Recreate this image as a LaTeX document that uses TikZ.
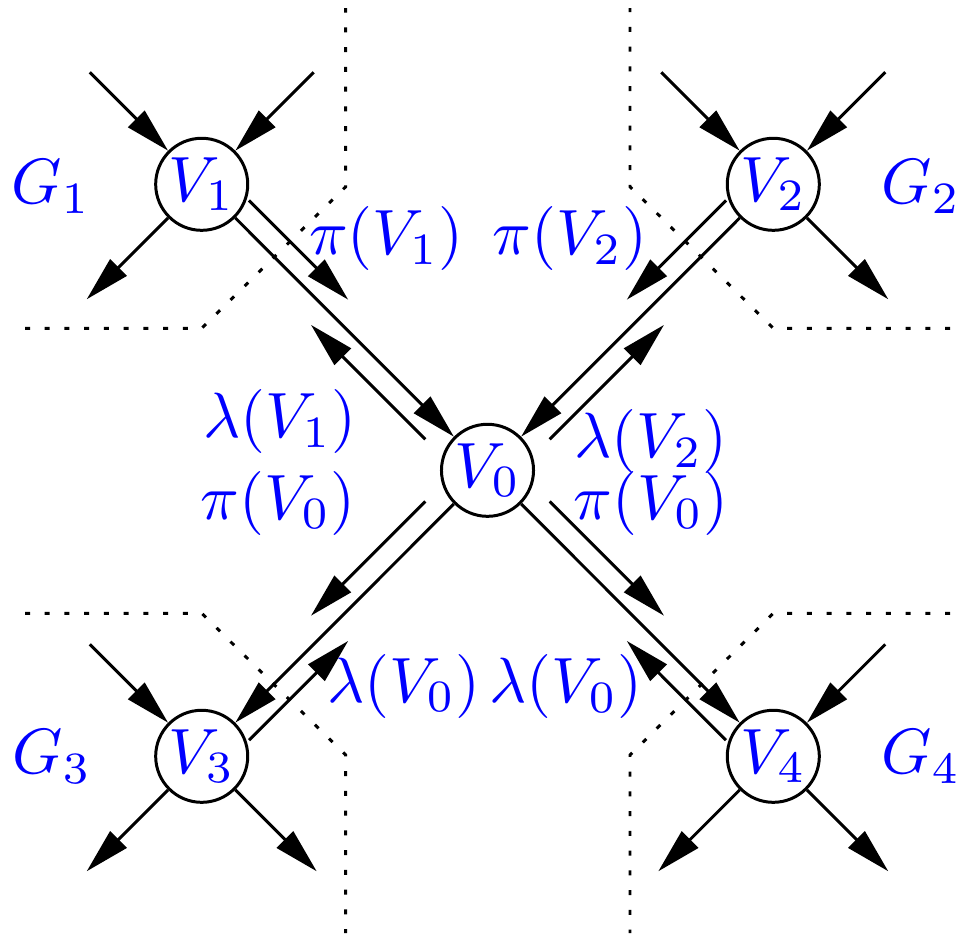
\RequirePackage{fix-cm}
\documentclass[tikz,border=0pt]{standalone}
\usetikzlibrary{arrows.meta,calc}
\newcommand\mylab[1]{\scalebox{1.82}{$#1$}}
\begin{document}
\begin{tikzpicture}[x=0.01cm,y=-0.01cm,
  font=\fontsize{10}{12}\selectfont,
  vtx/.style={circle,draw,line width=0.85pt,minimum size=0.92cm,inner sep=0pt,text=blue},
  lbl/.style={text=blue,inner sep=0pt},
  arr/.style={line width=0.85pt,-{Triangle[length=0.45cm,width=0.23cm]}},
  sepline/.style={line width=0.85pt,dash pattern=on 0.05cm off 0.1473cm},
]
\useasboundingbox (0,0) rectangle (957,936);

% dotted separators
\draw[sepline] (25,328.3) -- (201.7,328.3) -- (345.7,186.7) -- (345.7,8);
\draw[sepline] (950,328.3) -- (773.3,328.3) -- (630,186.7) -- (630,8);
\draw[sepline] (25,613.3) -- (201.7,613.3) -- (345.7,755) -- (345.7,933);
\draw[sepline] (950,613.3) -- (773.3,613.3) -- (630,755) -- (630,933);

% nodes
\node[vtx] (V0) at (487.5,470.3) {\mylab{V_0}};
\node[vtx] (V1) at (201.7,184.3) {\mylab{V_1}};
\node[vtx] (V2) at (773.3,184.3) {\mylab{V_2}};
\node[vtx] (V3) at (201.7,756.3) {\mylab{V_3}};
\node[vtx] (V4) at (773.3,756.3) {\mylab{V_4}};

% stub coordinates
\coordinate (i1a) at ($(V1)+(-112,-112)$);
\coordinate (i1b) at ($(V1)+(112,-112)$);
\coordinate (o1a) at ($(V1)+(-115,115)$);
\coordinate (i2a) at ($(V2)+(-112,-112)$);
\coordinate (i2b) at ($(V2)+(112,-112)$);
\coordinate (o2a) at ($(V2)+(115,115)$);
\coordinate (i3a) at ($(V3)+(-112,-112)$);
\coordinate (o3a) at ($(V3)+(-115,115)$);
\coordinate (o3b) at ($(V3)+(115,115)$);
\coordinate (i4b) at ($(V4)+(112,-112)$);
\coordinate (o4a) at ($(V4)+(-115,115)$);
\coordinate (o4b) at ($(V4)+(115,115)$);

\draw[arr] (i1a) -- (V1);
\draw[arr] (i1b) -- (V1);
\draw[arr] (V1) -- (o1a);
\draw[arr] (i2a) -- (V2);
\draw[arr] (i2b) -- (V2);
\draw[arr] (V2) -- (o2a);
\draw[arr] (i3a) -- (V3);
\draw[arr] (V3) -- (o3a);
\draw[arr] (V3) -- (o3b);
\draw[arr] (i4b) -- (V4);
\draw[arr] (V4) -- (o4a);
\draw[arr] (V4) -- (o4b);

% main connectors
\draw[arr] (V1) -- (V0);
\draw[arr] (V2) -- (V0);
\draw[arr] (V0) -- (V3);
\draw[arr] (V0) -- (V4);

% parallel message arrows
\coordinate (p1s) at ($(V1)!0.111!(V0)+(15.6,-15.6)$);
\coordinate (p1e) at ($(V1)!0.458!(V0)+(15.6,-15.6)$);
\coordinate (l1s) at ($(V0)!0.163!(V1)+(-15.6,15.6)$);
\coordinate (l1e) at ($(V0)!0.563!(V1)+(-15.6,15.6)$);
\coordinate (p2s) at ($(V2)!0.111!(V0)+(-15.6,-15.6)$);
\coordinate (p2e) at ($(V2)!0.458!(V0)+(-15.6,-15.6)$);
\coordinate (l2s) at ($(V0)!0.163!(V2)+(15.6,15.6)$);
\coordinate (l2e) at ($(V0)!0.563!(V2)+(15.6,15.6)$);
\coordinate (p3s) at ($(V0)!0.163!(V3)+(-15.6,-15.6)$);
\coordinate (p3e) at ($(V0)!0.563!(V3)+(-15.6,-15.6)$);
\coordinate (l3s) at ($(V3)!0.111!(V0)+(15.6,15.6)$);
\coordinate (l3e) at ($(V3)!0.458!(V0)+(15.6,15.6)$);
\coordinate (p4s) at ($(V0)!0.163!(V4)+(15.6,-15.6)$);
\coordinate (p4e) at ($(V0)!0.563!(V4)+(15.6,-15.6)$);
\coordinate (l4s) at ($(V4)!0.111!(V0)+(-15.6,15.6)$);
\coordinate (l4e) at ($(V4)!0.458!(V0)+(-15.6,15.6)$);

\draw[arr] (p1s) -- (p1e);
\draw[arr] (l1s) -- (l1e);
\draw[arr] (p2s) -- (p2e);
\draw[arr] (l2s) -- (l2e);
\draw[arr] (p3s) -- (p3e);
\draw[arr] (l3s) -- (l3e);
\draw[arr] (p4s) -- (p4e);
\draw[arr] (l4s) -- (l4e);

% labels
\node[lbl] (g1) at (51,186.5) {\mylab{G_1}};
\node[lbl] (g2) at (921,186.5) {\mylab{G_2}};
\node[lbl] (g3) at (52,756.5) {\mylab{G_3}};
\node[lbl] (g4) at (921,756.5) {\mylab{G_4}};
\node[lbl] (tp1) at (386.5,238.5) {\mylab{\pi(V_1)}};
\node[lbl] (tp2) at (570,238.5) {\mylab{\pi(V_2)}};
\node[lbl] (tl1) at (280,421.5) {\mylab{\lambda(V_1)}};
\node[lbl] (tl2) at (650.8,441.5) {\mylab{\lambda(V_2)}};
\node[lbl] (tp0a) at (278.3,503.3) {\mylab{\pi(V_0)}};
\node[lbl] (tp0b) at (650.8,503.3) {\mylab{\pi(V_0)}};
\node[lbl] (tl0a) at (404,686) {\mylab{\lambda(V_0)}};
\node[lbl] (tl0b) at (565.8,686.5) {\mylab{\lambda(V_0)}};
\end{tikzpicture}
\end{document}
